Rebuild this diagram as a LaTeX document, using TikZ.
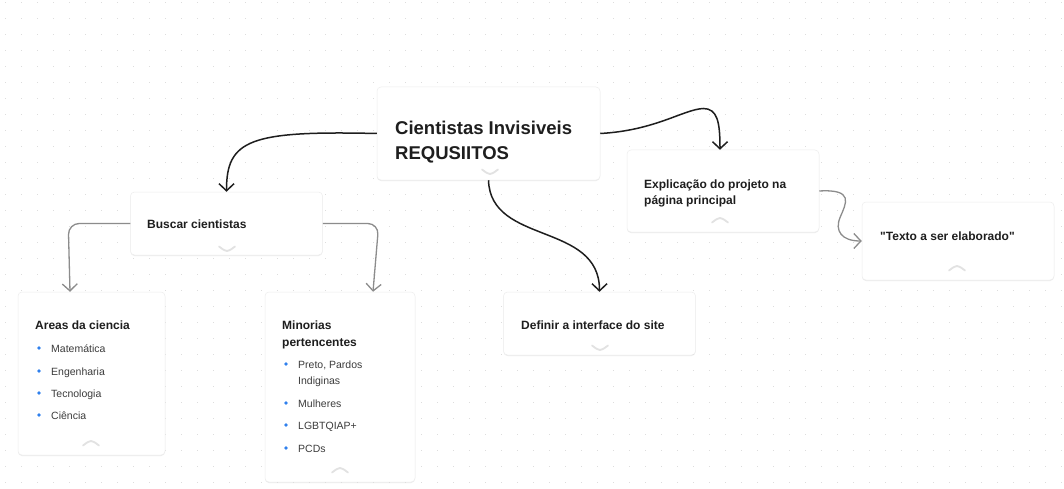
\documentclass[tikz,border=0pt]{standalone}
\usepackage{fontspec}
\setmainfont{Liberation Sans}
\usetikzlibrary{arrows.meta,shadows}
\definecolor{ink}{HTML}{1E1E1E}
\definecolor{itemink}{HTML}{3C3C3C}
\definecolor{dotgray}{HTML}{DDDDDD}
\definecolor{linkgray}{HTML}{8C8C8C}
\definecolor{chevgray}{HTML}{E2E2E2}
\definecolor{bulletblue}{HTML}{2F80ED}
% two lines, first baseline is the node baseline
\newcommand{\duaslinhas}[3]{\vtop{\baselineskip=#3\hbox{#1}\hbox{#2}}}
% straight double quote, no tex-text mapping
\newcommand{\aspas}{\XeTeXglyph\XeTeXcharglyph"22\relax}
\tikzset{
    %Define standard arrow tip
    >={Straight Barb[length=7pt,width=15pt]},
    %Define style for cards
    cartao/.style={
           rectangle,
           rounded corners=4pt,
           fill=white,
           draw=black!7, line width=.5pt,
           drop shadow={shadow xshift=0pt,shadow yshift=-1pt,opacity=.14},
           inner sep=0pt},
    %Define style for texts
    titulo/.style={
           inner sep=0pt,
           anchor=base west,
           text=ink,
           font=\fontsize{12pt}{16pt}\selectfont\bfseries},
    titulogrande/.style={
           titulo,
           font=\fontsize{18.5pt}{25pt}\selectfont\bfseries},
    item/.style={
           inner sep=0pt,
           anchor=base west,
           text=itemink,
           font=\fontsize{10.5pt}{16pt}\selectfont},
    chevron/.style={draw=chevgray, line width=1.8pt, line cap=round},
    % Define arrow style
    seta/.style={
           ->,
           draw=ink,
           line width=1.5pt},
    setacinza/.style={
           ->,
           draw=linkgray,
           line width=1.3pt,
           rounded corners=11pt}
}
\begin{document}
\begin{tikzpicture}[x=1pt,y=-1pt]
\useasboundingbox (0,0) rectangle (1064,489);
\fill[white] (0,0) rectangle (1064,489);
% dotted canvas
\foreach \i in {0,...,66}
  \foreach \j in {0,...,30}
    \fill[dotgray] ({4.8+16*\i},{1.8+16*\j}) rectangle ++(1.4,1.4);

% cards
\node[cartao, minimum width=223pt, minimum height=93pt] (central) at (488.5,133.5) {};
\node[cartao, minimum width=192pt, minimum height=63pt] (buscar) at (226.5,223.5) {};
\node[cartao, minimum width=147pt, minimum height=163pt] (areas) at (91.5,373.5) {};
\node[cartao, minimum width=150pt, minimum height=190pt] (minorias) at (340,387) {};
\node[cartao, minimum width=192pt, minimum height=63pt] (definir) at (599.5,323.5) {};
\node[cartao, minimum width=192pt, minimum height=82pt] (explicacao) at (723,191) {};
\node[cartao, minimum width=192pt, minimum height=78pt] (texto) at (958,241) {};

% texts
\node[titulogrande] (central-t) at (395,135) {\duaslinhas{Cientistas Invisiveis}{REQUSIITOS}{25pt}};
\node[titulo] (buscar-t) at (147,228) {Buscar cientistas};
\node[titulo] (definir-t) at (521,329) {Definir a interface do site};
\node[titulo] (explicacao-t) at (644,188) {\duaslinhas{Explicação do projeto na}{página principal}{16.5pt}};
\node[titulo] (texto-t) at (880,240) {\aspas Texto a ser elaborado\aspas};
\node[titulo] (areas-t) at (35,329) {Areas da ciencia};
\node[titulo] (minorias-t) at (282,329) {\duaslinhas{Minorias}{pertencentes}{17pt}};

% lists
\foreach \nome/\yy [count=\k] in {Matemática/352,Engenharia/375,Tecnologia/397,Ciência/419}{
  \node[item] (area\k) at (51,\yy) {\nome};
  \fill[bulletblue] ([shift={(-12,-4)}]area\k.base west) circle (1.8pt);
}
\node[item] (minoria1) at (298,368) {\duaslinhas{Preto, Pardos}{Indiginas}{16pt}};
\fill[bulletblue] ([shift={(-12,-4)}]minoria1.base west) circle (1.8pt);
\foreach \nome/\yy [count=\k from 2] in {Mulheres/407,LGBTQIAP+/429,PCDs/452}{
  \node[item] (minoria\k) at (298,\yy) {\nome};
  \fill[bulletblue] ([shift={(-12,-4)}]minoria\k.base west) circle (1.8pt);
}

% chevrons (1 = down, -1 = up)
\foreach \cx/\cy/\dir in {490/171/1,227/248/1,600/347/1,91/444/-1,340/471/-1,720/221/-1,957/269/-1}
  \draw[chevron] ({\cx-8},{\cy-1.5*\dir}) .. controls (\cx,{\cy+4.5*\dir}) .. ({\cx+8},{\cy-1.5*\dir});

% connectors
\draw[seta] (central.west) .. controls +(-127,-3) and +(0,-52) .. (buscar.north);
\draw[seta] (central.east) .. controls +(55,-3) and +(-20,1) .. ++(103,-25)
   .. controls +(14,0) and +(0,-28) .. ([xshift=-3pt]explicacao.north);
\draw[seta] (central.south) .. controls +(2,65) and +(0,-70) .. (definir.north);
\draw[setacinza] (buscar.west) -- ++(-62,0) -- ([xshift=-21.5pt]areas.north);
\draw[setacinza] (buscar.east) -- ++(56,0) -- ([xshift=33pt]minorias.north);
\draw[setacinza, rounded corners=0pt] (explicacao.east) .. controls +(35,-2) and +(6,-14) .. ++(21,26)
   .. controls +(-6,14) and +(-20,0) .. (texto.west);
\end{tikzpicture}
\end{document}
